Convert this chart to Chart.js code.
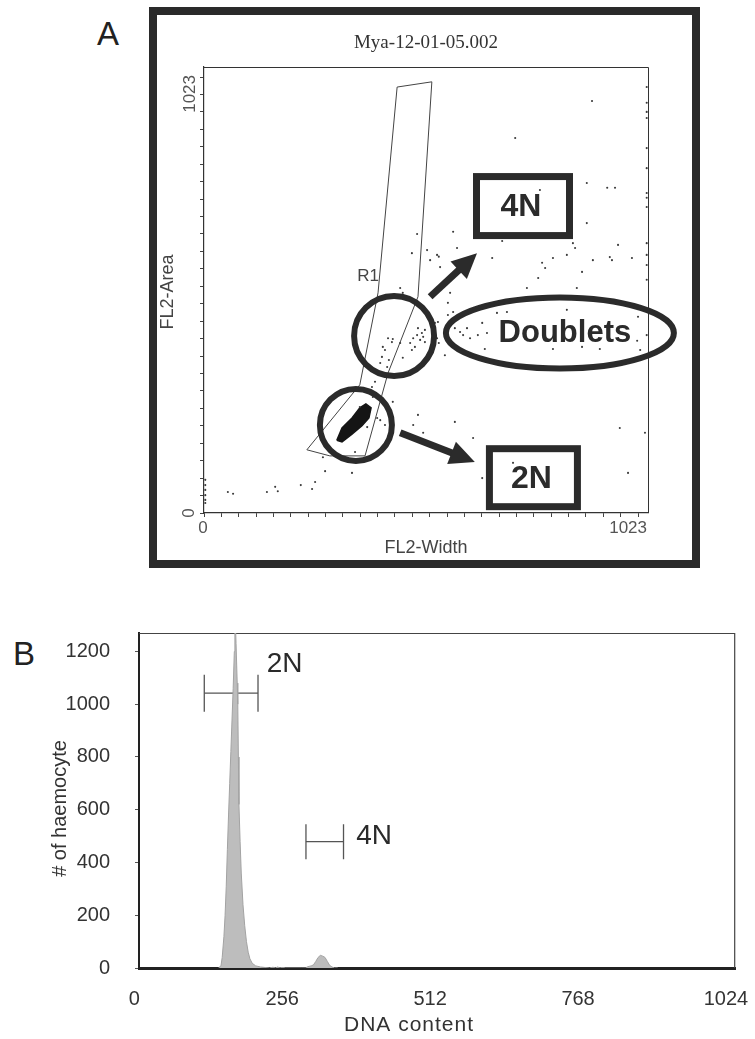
<!DOCTYPE html>
<html><head><meta charset="utf-8">
<script src="https://cdn.jsdelivr.net/npm/chart.js@4.4.1/dist/chart.umd.min.js"></script>
<style>
html,body{margin:0;padding:0;background:#fff;}
body{width:755px;height:1039px;position:relative;overflow:hidden;font-family:"Liberation Sans",Arial,sans-serif;}
#frameA{position:absolute;left:149px;top:7px;width:551px;height:561px;border:8px solid #2a2a2a;box-sizing:border-box;}
#cA{position:absolute;left:157px;top:15px;}
#cB{position:absolute;left:0;top:580px;}
.panel{position:absolute;font-size:33px;line-height:32px;color:#222;}
</style></head>
<body>
<div class="panel" style="left:97px;top:18px">A</div>
<div class="panel" style="left:13px;top:638px">B</div>
<div id="frameA"></div>
<canvas id="cA" width="535" height="545"></canvas>
<canvas id="cB" width="755" height="459"></canvas>
<script>
// ---------- Panel A data (FL2-Width vs FL2-Area, channels 0-1023) ----------
const tickValsA = [0,40,80,120,160,200,240,280,320,360,400,440,480,520,560,600,640,680,720,760,800,840,880,920,960,1000];
const eventsX = [55,67,145,164,170,223,249,256,279,274,341,348,3,3,3,3,3,3,
  493,482,505,578,435,406,417,394,387,389,359,399,376,620,712,641,958,977,1016,
  424,433,412,406,426,410,417,435,475,482,491,486,498,505,509,458,479,493,502,452,509,422,532,539,537,541,555,
  578,590,597,606,613,567,560,631,652,647,804,871,912,998,1005,641,698,675,562,567,836,
  562,574,544,537,521,479,452,458,574,583,491,514,541,882,954,935,940,986,896,855,850,836,804,779,786,770,871,859,664,687,744,882,929,947,774,894,717,813,1000,
  1020,1020,1020,1020,1020,1020,1020,1020,1020,1020,1020,1020,1020,1020];
const eventsY = [48,44,48,60,50,64,55,71,96,128,92,140,76,64,53,41,30,23,
  225,202,184,209,255,213,202,301,289,266,243,218,197,172,115,80,195,92,184,
  401,392,381,344,351,358,374,399,390,401,408,381,397,404,420,356,374,424,413,390,392,335,436,438,401,390,362,
  424,415,408,424,401,397,427,408,413,376,376,381,376,395,374,436,461,459,454,505,466,
  482,461,564,592,580,596,516,505,645,608,640,603,588,665,615,587,580,585,580,608,619,592,585,574,562,539,553,516,585,624,516,757,746,746,741,945,860,768,450,
  977,941,920,906,837,791,734,723,702,619,592,569,535,408];
// R1 gate polygon
const gateX = [445,525,493,424,371,290,237,359,401,445];
const gateY = [977,989,496,321,131,131,145,294,505,977];
// dense 2N cluster outline
const blobX = [306,318,341,359,373,385,380,364,341,318,306];
const blobY = [167,195,218,241,250,241,218,200,181,163,167];

// ---------- Panel B data (DNA content histogram) ----------
const xTicksB = [0,256,512,768,1024];
const yTicksB = [0,200,400,600,800,1000,1200];
const histX = [146,150,152,155,157,159,161,163,165,167,169,171,173,174,175,176,178,179,180,181,183,185,188,191,194,197,200,204,210,218,226,234,240,244,248,252,256,262,290,296,300,306,310,314,318,322,326,330,334,338,342,346,352];
const histY = [0,10,40,120,200,310,450,580,700,820,940,1060,1200,1300,1300,1230,1080,1000,800,620,480,360,240,160,100,60,35,18,8,4,2,0,3,0,4,0,2,0,0,0,5,8,12,25,40,48,45,40,25,10,4,0,0];
const gate2NX = [121,214], gate2NY = [1042,1042];
const gate4NX = [297,362], gate4NY = [479,479];

const zip = (xs, ys) => xs.map((v, i) => ({x: v, y: ys[i]}));
const SANS = '"Liberation Sans", Arial, sans-serif';

// ---------- Panel A annotations (data coordinates) ----------
const circles = [{x:438,y:406,r:40},{x:350,y:202,r:36}];
const doublets = {x:820,y:413,rx:114,ry:35.5,label:'Doublets'};
const boxes = [{x:735,y:704,w:93,h:59,t:'4N'},{x:759,y:81,w:88,h:58,t:'2N'}];
const arrows = [{x0:521,y0:496,x1:629,y1:596},{x0:452,y0:184,x1:624,y1:117}];
const gateLabel = {x:378,y:544,t:'R1'};

const annotA = {
  id: 'annotA',
  afterDatasetsDraw(chart) {
    const {ctx, chartArea: ca, scales: {x, y}} = chart;
    const px = v => x.getPixelForValue(v), py = v => y.getPixelForValue(v);
    ctx.save();
    ctx.strokeStyle = '#333'; ctx.lineWidth = 1;
    ctx.beginPath();
    ctx.moveTo(ca.left, ca.top + 0.5); ctx.lineTo(ca.right + 0.5, ca.top + 0.5); ctx.lineTo(ca.right + 0.5, ca.bottom);
    ctx.stroke();
    ctx.fillStyle = '#333';
    ctx.font = '19px "Liberation Serif", "Times New Roman", serif';
    ctx.textAlign = 'center'; ctx.textBaseline = 'middle';
    ctx.fillText('Mya-12-01-05.002', (ca.left + ca.right) / 2, ca.top - 24);
    ctx.fillStyle = '#555';
    ctx.font = '17px ' + SANS;
    ctx.textAlign = 'center'; ctx.textBaseline = 'middle';
    ctx.fillText('0', px(0) - 1, ca.bottom + 15);
    ctx.textAlign = 'right';
    ctx.fillText('1023', px(1023) - 1, ca.bottom + 15);
    ctx.save();
    ctx.translate(ca.left - 15, py(0)); ctx.rotate(-Math.PI / 2);
    ctx.textAlign = 'center'; ctx.fillText('0', 0, 0);
    ctx.restore();
    ctx.save();
    ctx.translate(ca.left - 14, py(1023) + 8); ctx.rotate(-Math.PI / 2);
    ctx.textAlign = 'right'; ctx.fillText('1023', 0, 0);
    ctx.restore();
    ctx.fillStyle = '#444';
    ctx.font = '18px ' + SANS;
    ctx.textAlign = 'center';
    ctx.fillText('FL2-Width', (ca.left + ca.right) / 2, ca.bottom + 35);
    ctx.save();
    ctx.translate(ca.left - 36, (ca.top + ca.bottom) / 2 + 2); ctx.rotate(-Math.PI / 2);
    ctx.fillText('FL2-Area', 0, 0);
    ctx.restore();
    ctx.font = '17px ' + SANS; ctx.fillStyle = '#444';
    ctx.fillText(gateLabel.t, px(gateLabel.x), py(gateLabel.y));
    const dark = '#2b2b2b';
    ctx.strokeStyle = dark; ctx.fillStyle = dark; ctx.lineWidth = 6;
    circles.forEach(c => { ctx.beginPath(); ctx.arc(px(c.x), py(c.y), c.r, 0, Math.PI * 2); ctx.stroke(); });
    ctx.beginPath();
    ctx.ellipse(px(doublets.x), py(doublets.y), doublets.rx, doublets.ry, 0, 0, Math.PI * 2);
    ctx.stroke();
    ctx.font = 'bold 31px ' + SANS;
    ctx.textAlign = 'center'; ctx.textBaseline = 'middle';
    ctx.fillText(doublets.label, px(doublets.x) + 5, py(doublets.y) + 1);
    ctx.lineWidth = 7;
    boxes.forEach(b => {
      const cx = px(b.x), cy = py(b.y);
      ctx.strokeRect(cx - b.w / 2, cy - b.h / 2, b.w, b.h);
      ctx.font = 'bold 32px ' + SANS;
      ctx.fillText(b.t, cx - 2, cy + 1);
    });
    arrows.forEach(a => {
      const x0 = px(a.x0), y0 = py(a.y0), x1 = px(a.x1), y1 = py(a.y1);
      const ang = Math.atan2(y1 - y0, x1 - x0);
      const hl = 25, hw = 12;
      const bx = x1 - hl * Math.cos(ang), by = y1 - hl * Math.sin(ang);
      ctx.lineWidth = 7; ctx.lineCap = 'butt';
      ctx.beginPath(); ctx.moveTo(x0, y0); ctx.lineTo(bx + Math.cos(ang) * 2, by + Math.sin(ang) * 2); ctx.stroke();
      ctx.beginPath();
      ctx.moveTo(x1, y1);
      ctx.lineTo(bx + hw * Math.sin(ang), by - hw * Math.cos(ang));
      ctx.lineTo(bx - hw * Math.sin(ang), by + hw * Math.cos(ang));
      ctx.closePath(); ctx.fill();
    });
    ctx.restore();
  }
};

new Chart(document.getElementById('cA'), {
  type: 'scatter',
  data: { datasets: [
    { data: zip(eventsX, eventsY), pointRadius: 1.05, pointBackgroundColor: '#3a3a3a', pointBorderWidth: 0, showLine: false },
    { data: zip(gateX, gateY), showLine: true, borderColor: '#444', borderWidth: 1, pointRadius: 0, fill: false },
    { data: zip(blobX, blobY), showLine: true, borderColor: '#151515', borderWidth: 1.5, backgroundColor: '#151515', pointRadius: 0, fill: 'shape' }
  ]},
  options: {
    responsive: false, animation: false, devicePixelRatio: 1,
    layout: { padding: { left: 37, top: 52, right: 44, bottom: 37 } },
    plugins: { legend: { display: false }, tooltip: { enabled: false }, title: { display: false } },
    scales: {
      x: { type: 'linear', min: 0, max: 1023,
        afterBuildTicks: s => { s.ticks = tickValsA.map(v => ({ value: v })); },
        afterFit: s => { s.height = 10; s.paddingLeft = 0; s.paddingRight = 0; },
        ticks: { autoSkip: false, maxRotation: 0, callback: () => '' },
        grid: { display: true, drawOnChartArea: false, drawTicks: true, tickLength: 4, color: '#444' },
        border: { display: true, color: '#333', width: 1.2 } },
      y: { type: 'linear', min: 0, max: 1023,
        afterBuildTicks: s => { s.ticks = tickValsA.map(v => ({ value: v })); },
        afterFit: s => { s.width = 10; s.paddingTop = 0; s.paddingBottom = 0; },
        ticks: { autoSkip: false, callback: () => '' },
        grid: { display: true, drawOnChartArea: false, drawTicks: true, tickLength: 4, color: '#444' },
        border: { display: true, color: '#333', width: 1.2 } }
    }
  },
  plugins: [annotA]
});

// ---------- Panel B ----------
const labelsB = [{x:229,y:1150,t:'2N'},{x:384,y:498,t:'4N'}];
const annotB = {
  id: 'annotB',
  beforeDatasetsDraw(chart) {
    const {ctx, chartArea: ca} = chart;
    ctx.save();
    ctx.strokeStyle = '#444'; ctx.lineWidth = 1.2;
    ctx.beginPath();
    ctx.moveTo(ca.left, ca.top + 0.5); ctx.lineTo(ca.right - 0.5, ca.top + 0.5); ctx.lineTo(ca.right - 0.5, ca.bottom);
    ctx.stroke();
    ctx.restore();
  },
  afterDatasetsDraw(chart) {
    const {ctx, chartArea: ca, scales: {x, y}} = chart;
    ctx.save();
    ctx.fillStyle = '#2a2a2a';
    ctx.font = '28px ' + SANS;
    ctx.textAlign = 'left'; ctx.textBaseline = 'middle';
    labelsB.forEach(l => ctx.fillText(l.t, x.getPixelForValue(l.x), y.getPixelForValue(l.y)));
    ctx.fillStyle = '#333';
    ctx.font = '21px ' + SANS;
    ctx.textAlign = 'center';
    try { ctx.letterSpacing = '1px'; } catch (e) {}
    ctx.fillText('DNA content', 409, ca.bottom + 57);
    try { ctx.letterSpacing = '0px'; } catch (e) {}
    ctx.font = '20px ' + SANS;
    ctx.save();
    ctx.translate(60, (ca.top + ca.bottom) / 2 + 8); ctx.rotate(-Math.PI / 2);
    ctx.fillText('# of haemocyte', 0, 0);
    ctx.restore();
    ctx.restore();
  }
};

new Chart(document.getElementById('cB'), {
  type: 'scatter',
  data: { datasets: [
    { data: zip(histX, histY), showLine: true, fill: 'origin', backgroundColor: '#bdbdbd', borderColor: '#a3a3a3', borderWidth: 1, pointRadius: 0, tension: 0 },
    { data: zip(gate2NX, gate2NY), showLine: true, borderColor: '#555', borderWidth: 1.3, pointStyle: 'line', rotation: 90, pointRadius: 18.5, pointBorderColor: '#555', pointBorderWidth: 1.3 },
    { data: zip(gate4NX, gate4NY), showLine: true, borderColor: '#555', borderWidth: 1.3, pointStyle: 'line', rotation: 90, pointRadius: 17.5, pointBorderColor: '#555', pointBorderWidth: 1.3 }
  ]},
  options: {
    responsive: false, animation: false, devicePixelRatio: 1,
    layout: { padding: { left: 0, top: 53, right: 18, bottom: 0 } },
    plugins: { legend: { display: false }, tooltip: { enabled: false } },
    scales: {
      x: { type: 'linear', min: 8, max: 1040,
        afterBuildTicks: s => { s.ticks = xTicksB.map(v => ({ value: v })); },
        afterFit: s => { s.height = 71; s.paddingLeft = 0; s.paddingRight = 0; },
        ticks: { autoSkip: false, maxRotation: 0, padding: 19, color: '#333', font: { family: SANS, size: 20 }, callback: v => String(v) },
        grid: { display: false, drawTicks: false },
        border: { display: true, color: '#222', width: 3 } },
      y: { type: 'linear', min: 0, max: 1270,
        afterBuildTicks: s => { s.ticks = yTicksB.map(v => ({ value: v })); },
        afterFit: s => { s.width = 139; s.paddingTop = 0; s.paddingBottom = 0; },
        ticks: { autoSkip: false, padding: 25, color: '#333', font: { family: SANS, size: 20 }, callback: v => String(v) },
        grid: { display: true, drawOnChartArea: false, drawTicks: true, tickLength: 4, color: '#555' },
        border: { display: true, color: '#222', width: 2 } }
    }
  },
  plugins: [annotB]
});
</script>
</body></html>
